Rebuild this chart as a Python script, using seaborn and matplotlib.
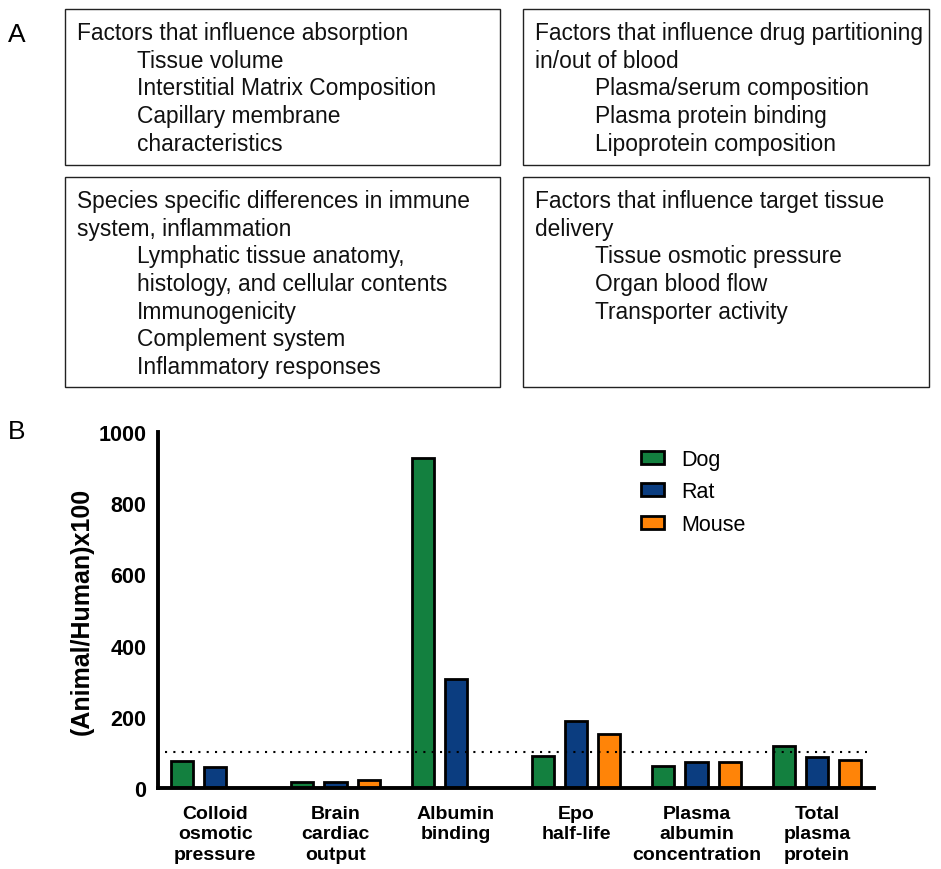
import numpy as np
import pandas as pd
import matplotlib.pyplot as plt
import seaborn as sns
from matplotlib.patches import Rectangle

categories = ['Colloid\nosmotic\npressure', 'Brain\ncardiac\noutput', 'Albumin\nbinding',
              'Epo\nhalf-life', 'Plasma\nalbumin\nconcentration', 'Total\nplasma\nprotein']
species = ['Dog', 'Rat', 'Mouse']
dog = [77, 16, 926, 89, 61, 119]
rat = [60, 16, 306, 189, 72, 88]
mouse = [np.nan, 22, np.nan, 152, 74, 79]
colors = ['#13803f', '#0b3d80', '#ff8408']

box_texts = [
    ['Factors that influence absorption', '\tTissue volume', '\tInterstitial Matrix Composition',
     '\tCapillary membrane', '\tcharacteristics'],
    ['Factors that influence drug partitioning', 'in/out of blood', '\tPlasma/serum composition',
     '\tPlasma protein binding', '\tLipoprotein composition'],
    ['Species specific differences in immune', 'system, inflammation', '\tLymphatic tissue anatomy,',
     '\thistology, and cellular contents', '\tImmunogenicity', '\tComplement system',
     '\tInflammatory responses'],
    ['Factors that influence target tissue', 'delivery', '\tTissue osmotic pressure',
     '\tOrgan blood flow', '\tTransporter activity'],
]

df = pd.DataFrame({
    'category': categories * 3,
    'species': [s for s in species for _ in categories],
    'value': dog + rat + mouse,
}).dropna()

sns.set_style('white')
plt.rcParams['font.family'] = ['Liberation Sans', 'DejaVu Sans']
plt.rcParams.update({'text.color': 'black', 'axes.labelcolor': 'black',
                     'xtick.color': 'black', 'ytick.color': 'black',
                     'axes.edgecolor': 'black'})

W, H = 941, 870
fig = plt.figure(figsize=(W / 100, H / 100), dpi=100)


def fx(x):
    return x / W


def fy(y):
    return 1 - y / H


# panel A: text boxes
boxes = [(65, 10, 500, 166), (523, 10, 929, 166), (65, 178, 500, 388), (523, 178, 929, 388)]
for (x0, y0, x1, y1), lines in zip(boxes, box_texts):
    fig.patches.append(Rectangle((fx(x0), fy(y1)), fx(x1 - x0), (y1 - y0) / H,
                                 transform=fig.transFigure, fill=False,
                                 edgecolor='#222222', linewidth=1.0))
    for i, line in enumerate(lines):
        indent = 60 if line.startswith('\t') else 0
        fig.text(fx(x0 + 12 + indent), fy(y0 + 23.5 + i * 27.7), line.lstrip('\t'),
                 fontsize=16.4, va='center', ha='left', color='#111111')

fig.text(fx(8), fy(35), 'A', fontsize=19, va='center', ha='left')
fig.text(fx(8), fy(432), 'B', fontsize=19, va='center', ha='left')

# panel B: bar chart
ax = fig.add_axes([fx(158), fy(789), fx(874 - 158), (789 - 433) / H])
sns.barplot(data=df, x='category', y='value', hue='species', order=categories,
            hue_order=species, palette=colors, width=0.825, gap=0.33,
            edgecolor='black', linewidth=2.0, saturation=1, ax=ax)

ax.hlines(100, -0.42, 5.42, colors='black', linestyles=(0, (1, 3)), linewidth=1.5)
ax.set_xlim(-0.475, 5.475)
ax.set_ylim(0, 1000)
ax.set_yticks([0, 200, 400, 600, 800, 1000])
ax.set_xlabel('')
ax.set_ylabel('(Animal/Human)x100', fontsize=18, fontweight='bold', labelpad=3)
sns.despine(ax=ax)
for side in ['left', 'bottom']:
    ax.spines[side].set_linewidth(2.8)
ax.tick_params(axis='both', direction='out', length=7.5, width=2.8, pad=1)
ax.tick_params(axis='y', labelsize=15.5)
ax.tick_params(axis='x', labelsize=14, pad=4.5)
for lab in ax.get_xticklabels() + ax.get_yticklabels():
    lab.set_fontweight('bold')
for lab in ax.get_xticklabels():
    lab.set_linespacing(1.28)
    lab.set_va('top')

leg = ax.legend(loc='upper left', bbox_to_anchor=(0.647, 1.007), frameon=False,
                fontsize=15.5, handlelength=1.1, handleheight=0.55, labelspacing=0.53,
                handletextpad=0.8)

fig.savefig('out.png', dpi=100)
